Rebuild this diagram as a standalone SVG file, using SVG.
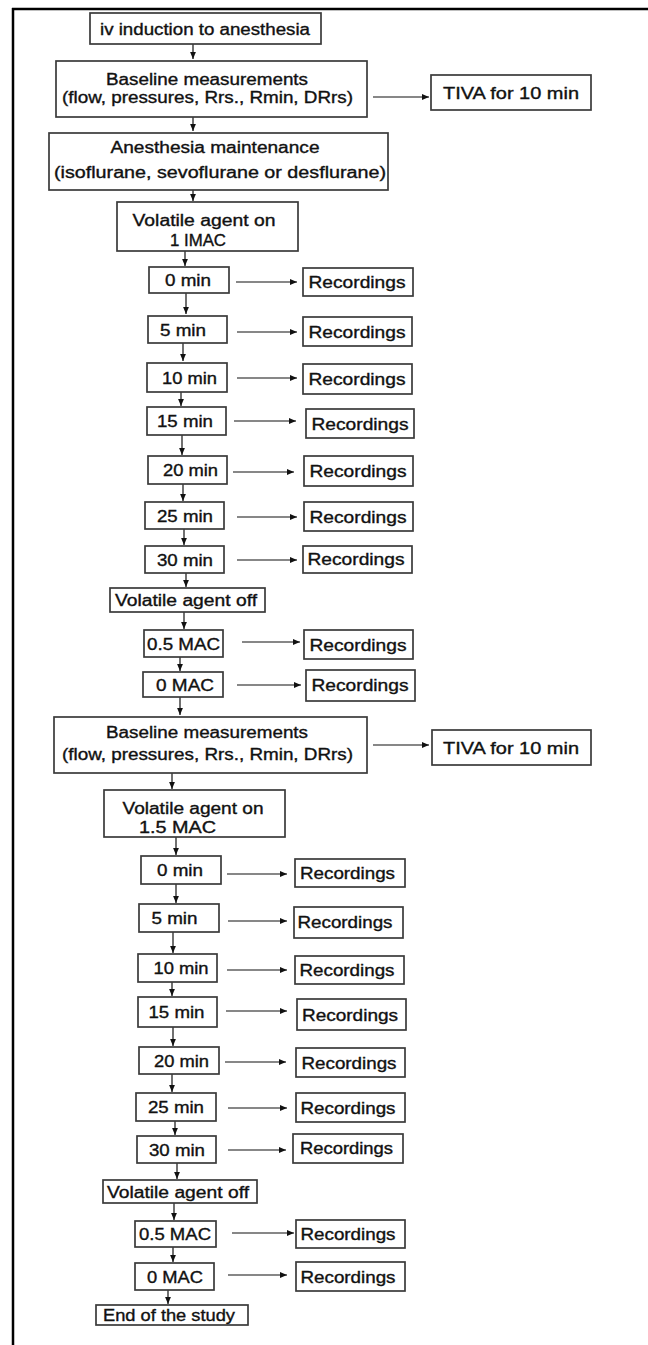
<svg xmlns="http://www.w3.org/2000/svg" width="648" height="1345" viewBox="0 0 648 1345">
<style>
.b{fill:#fff;stroke:#3a3a3a;stroke-width:1.7}
.t{font-family:"Liberation Sans",Arial,sans-serif;font-size:16px;fill:#111;stroke:#111;stroke-width:0.35;text-anchor:middle}
.c{stroke:#111;stroke-width:1.2;fill:none}
.h{marker-end:url(#hh)}
</style>
<defs>
<marker id="hh" markerUnits="userSpaceOnUse" markerWidth="8" markerHeight="8" refX="7" refY="3.5" orient="auto" viewBox="0 0 8 7">
<path d="M0,0.6 L7,3.5 L0,6.4 Z" fill="#111"/>
</marker>
</defs>
<rect width="648" height="1345" fill="#fff"/>
<g id="frame">
<line x1="12" y1="9" x2="648" y2="9" stroke="#000" stroke-width="2.5"/>
<line x1="13" y1="8" x2="13" y2="1345" stroke="#000" stroke-width="2.5"/>
</g>
<g id="connectors">
<line class="c h" x1="193" y1="44" x2="193" y2="59"/>
<line class="c h" x1="373" y1="97" x2="429" y2="97"/>
<line class="c h" x1="193" y1="117" x2="193" y2="131"/>
<line class="c h" x1="193" y1="190" x2="193" y2="201"/>
<line class="c h" x1="185" y1="251" x2="185" y2="266"/>
<line class="c h" x1="236" y1="282" x2="297" y2="282"/>
<line class="c h" x1="186" y1="293" x2="186" y2="314"/>
<line class="c h" x1="237" y1="332" x2="297" y2="332"/>
<line class="c h" x1="183" y1="343" x2="183" y2="361"/>
<line class="c h" x1="237" y1="378" x2="297" y2="378"/>
<line class="c h" x1="181" y1="392" x2="181" y2="406"/>
<line class="c h" x1="234" y1="421" x2="296" y2="421"/>
<line class="c h" x1="182" y1="435" x2="182" y2="455"/>
<line class="c h" x1="233" y1="472" x2="294" y2="472"/>
<line class="c h" x1="183" y1="484" x2="183" y2="501"/>
<line class="c h" x1="237" y1="517" x2="297" y2="517"/>
<line class="c h" x1="184" y1="529" x2="184" y2="545"/>
<line class="c h" x1="237" y1="560" x2="297" y2="560"/>
<line class="c h" x1="186" y1="573" x2="186" y2="587"/>
<line class="c h" x1="184" y1="612" x2="184" y2="629"/>
<line class="c h" x1="242" y1="642" x2="300" y2="642"/>
<line class="c h" x1="180" y1="657" x2="180" y2="671"/>
<line class="c h" x1="237" y1="685" x2="301" y2="685"/>
<line class="c h" x1="180" y1="697" x2="180" y2="715"/>
<line class="c h" x1="373" y1="745" x2="429" y2="745"/>
<line class="c h" x1="172" y1="773" x2="172" y2="789"/>
<line class="c h" x1="176" y1="837" x2="176" y2="855"/>
<line class="c h" x1="227" y1="874" x2="287" y2="874"/>
<line class="c h" x1="176" y1="884" x2="176" y2="903"/>
<line class="c h" x1="228" y1="921" x2="287" y2="921"/>
<line class="c h" x1="173" y1="932" x2="173" y2="953"/>
<line class="c h" x1="227" y1="970" x2="287" y2="970"/>
<line class="c h" x1="172" y1="982" x2="172" y2="996"/>
<line class="c h" x1="226" y1="1011" x2="287" y2="1011"/>
<line class="c h" x1="173" y1="1027" x2="173" y2="1046"/>
<line class="c h" x1="225" y1="1062" x2="286" y2="1062"/>
<line class="c h" x1="172" y1="1074" x2="172" y2="1092"/>
<line class="c h" x1="228" y1="1108" x2="287" y2="1108"/>
<line class="c h" x1="175" y1="1121" x2="175" y2="1135"/>
<line class="c h" x1="228" y1="1150" x2="286" y2="1150"/>
<line class="c h" x1="177" y1="1163" x2="177" y2="1179"/>
<line class="c h" x1="174" y1="1203" x2="174" y2="1220"/>
<line class="c h" x1="232" y1="1233" x2="294" y2="1233"/>
<line class="c h" x1="173" y1="1247" x2="173" y2="1262"/>
<line class="c h" x1="228" y1="1275" x2="287" y2="1275"/>
<line class="c h" x1="168" y1="1290" x2="168" y2="1304"/>
</g>
<g id="n-induction"><rect class="b" x="90" y="13" width="231" height="31"/><text class="t" x="205" y="34.5" textLength="210" lengthAdjust="spacingAndGlyphs">iv induction to anesthesia</text></g>
<g id="n-baseline1"><rect class="b" x="56" y="61" width="311" height="56"/><text class="t" x="207" y="85" textLength="202" lengthAdjust="spacingAndGlyphs">Baseline measurements</text><text class="t" x="207.5" y="103" textLength="291" lengthAdjust="spacingAndGlyphs">(flow, pressures, Rrs., Rmin, DRrs)</text></g>
<g id="n-tiva1"><rect class="b" x="431" y="75" width="160" height="35"/><text class="t" x="511" y="98.5" textLength="136" lengthAdjust="spacingAndGlyphs">TIVA for 10 min</text></g>
<g id="n-maint"><rect class="b" x="49" y="133" width="339" height="57"/><text class="t" x="215" y="153" textLength="209" lengthAdjust="spacingAndGlyphs">Anesthesia maintenance</text><text class="t" x="220" y="178" textLength="332" lengthAdjust="spacingAndGlyphs">(isoflurane, sevoflurane or desflurane)</text></g>
<g id="n-von1"><rect class="b" x="117" y="202" width="181" height="49"/><text class="t" x="204" y="226" textLength="143" lengthAdjust="spacingAndGlyphs">Volatile agent on</text><text class="t" x="198" y="246" textLength="56" lengthAdjust="spacingAndGlyphs">1 IMAC</text></g>
<g id="n-a0"><rect class="b" x="149" y="267" width="80" height="26"/><text class="t" x="188" y="286" textLength="46" lengthAdjust="spacingAndGlyphs">0 min</text></g>
<g id="n-ar0"><rect class="b" x="303" y="268" width="110" height="28"/><text class="t" x="357" y="288" textLength="97" lengthAdjust="spacingAndGlyphs">Recordings</text></g>
<g id="n-a5"><rect class="b" x="148" y="316" width="79" height="27"/><text class="t" x="183" y="335.5" textLength="46" lengthAdjust="spacingAndGlyphs">5 min</text></g>
<g id="n-ar5"><rect class="b" x="303" y="317" width="109" height="29"/><text class="t" x="357" y="337.5" textLength="97" lengthAdjust="spacingAndGlyphs">Recordings</text></g>
<g id="n-a10"><rect class="b" x="147" y="363" width="80" height="29"/><text class="t" x="189.5" y="383.5" textLength="55" lengthAdjust="spacingAndGlyphs">10 min</text></g>
<g id="n-ar10"><rect class="b" x="303" y="364" width="109" height="30"/><text class="t" x="357" y="385" textLength="97" lengthAdjust="spacingAndGlyphs">Recordings</text></g>
<g id="n-a15"><rect class="b" x="147" y="407" width="79" height="28"/><text class="t" x="185" y="427" textLength="56" lengthAdjust="spacingAndGlyphs">15 min</text></g>
<g id="n-ar15"><rect class="b" x="306" y="409" width="108" height="29"/><text class="t" x="360" y="429.5" textLength="97" lengthAdjust="spacingAndGlyphs">Recordings</text></g>
<g id="n-a20"><rect class="b" x="148" y="456" width="79" height="28"/><text class="t" x="190.5" y="476" textLength="55" lengthAdjust="spacingAndGlyphs">20 min</text></g>
<g id="n-ar20"><rect class="b" x="304" y="456" width="109" height="30"/><text class="t" x="358" y="477" textLength="97" lengthAdjust="spacingAndGlyphs">Recordings</text></g>
<g id="n-a25"><rect class="b" x="145" y="502" width="79" height="27"/><text class="t" x="185" y="521.5" textLength="56" lengthAdjust="spacingAndGlyphs">25 min</text></g>
<g id="n-ar25"><rect class="b" x="304" y="502" width="109" height="29"/><text class="t" x="358" y="522.5" textLength="97" lengthAdjust="spacingAndGlyphs">Recordings</text></g>
<g id="n-a30"><rect class="b" x="145" y="546" width="79" height="27"/><text class="t" x="185" y="565.5" textLength="56" lengthAdjust="spacingAndGlyphs">30 min</text></g>
<g id="n-ar30"><rect class="b" x="303" y="546" width="109" height="27"/><text class="t" x="356" y="564.5" textLength="97" lengthAdjust="spacingAndGlyphs">Recordings</text></g>
<g id="n-aoff"><rect class="b" x="110" y="588" width="155" height="24"/><text class="t" x="186" y="606" textLength="142" lengthAdjust="spacingAndGlyphs">Volatile agent off</text></g>
<g id="n-a05"><rect class="b" x="144" y="630" width="79" height="27"/><text class="t" x="183.5" y="649.5" textLength="73" lengthAdjust="spacingAndGlyphs">0.5 MAC</text></g>
<g id="n-ar05"><rect class="b" x="304" y="630" width="109" height="29"/><text class="t" x="358" y="650.5" textLength="97" lengthAdjust="spacingAndGlyphs">Recordings</text></g>
<g id="n-a00"><rect class="b" x="143" y="672" width="80" height="25"/><text class="t" x="185" y="690.5" textLength="58" lengthAdjust="spacingAndGlyphs">0 MAC</text></g>
<g id="n-ar00"><rect class="b" x="306" y="670" width="109" height="31"/><text class="t" x="360" y="691" textLength="97" lengthAdjust="spacingAndGlyphs">Recordings</text></g>
<g id="n-baseline2"><rect class="b" x="54" y="717" width="313" height="56"/><text class="t" x="207" y="738" textLength="202" lengthAdjust="spacingAndGlyphs">Baseline measurements</text><text class="t" x="207.5" y="760" textLength="291" lengthAdjust="spacingAndGlyphs">(flow, pressures, Rrs., Rmin, DRrs)</text></g>
<g id="n-tiva2"><rect class="b" x="432" y="730" width="159" height="35"/><text class="t" x="511" y="753.5" textLength="136" lengthAdjust="spacingAndGlyphs">TIVA for 10 min</text></g>
<g id="n-von2"><rect class="b" x="104" y="790" width="181" height="47"/><text class="t" x="193" y="814" textLength="141" lengthAdjust="spacingAndGlyphs">Volatile agent on</text><text class="t" x="177.5" y="833" textLength="77" lengthAdjust="spacingAndGlyphs">1.5 MAC</text></g>
<g id="n-b0"><rect class="b" x="141" y="856" width="80" height="28"/><text class="t" x="180" y="876" textLength="46" lengthAdjust="spacingAndGlyphs">0 min</text></g>
<g id="n-br0"><rect class="b" x="295" y="859" width="110" height="28"/><text class="t" x="347.5" y="879" textLength="95" lengthAdjust="spacingAndGlyphs">Recordings</text></g>
<g id="n-b5"><rect class="b" x="139" y="904" width="80" height="28"/><text class="t" x="174.5" y="924" textLength="46" lengthAdjust="spacingAndGlyphs">5 min</text></g>
<g id="n-br5"><rect class="b" x="294" y="907" width="109" height="31"/><text class="t" x="345" y="928" textLength="95" lengthAdjust="spacingAndGlyphs">Recordings</text></g>
<g id="n-b10"><rect class="b" x="138" y="954" width="79" height="28"/><text class="t" x="181" y="974" textLength="55" lengthAdjust="spacingAndGlyphs">10 min</text></g>
<g id="n-br10"><rect class="b" x="295" y="956" width="109" height="28"/><text class="t" x="347" y="976" textLength="95" lengthAdjust="spacingAndGlyphs">Recordings</text></g>
<g id="n-b15"><rect class="b" x="138" y="997" width="79" height="30"/><text class="t" x="176.5" y="1018" textLength="56" lengthAdjust="spacingAndGlyphs">15 min</text></g>
<g id="n-br15"><rect class="b" x="297" y="999" width="109" height="31"/><text class="t" x="350" y="1020.5" textLength="96" lengthAdjust="spacingAndGlyphs">Recordings</text></g>
<g id="n-b20"><rect class="b" x="139" y="1047" width="80" height="27"/><text class="t" x="181.5" y="1066.5" textLength="55" lengthAdjust="spacingAndGlyphs">20 min</text></g>
<g id="n-br20"><rect class="b" x="296" y="1048" width="109" height="29"/><text class="t" x="349" y="1068.5" textLength="95" lengthAdjust="spacingAndGlyphs">Recordings</text></g>
<g id="n-b25"><rect class="b" x="136" y="1093" width="80" height="28"/><text class="t" x="176" y="1113" textLength="56" lengthAdjust="spacingAndGlyphs">25 min</text></g>
<g id="n-br25"><rect class="b" x="296" y="1093" width="109" height="29"/><text class="t" x="348" y="1113.5" textLength="95" lengthAdjust="spacingAndGlyphs">Recordings</text></g>
<g id="n-b30"><rect class="b" x="137" y="1136" width="79" height="27"/><text class="t" x="177" y="1155.5" textLength="56" lengthAdjust="spacingAndGlyphs">30 min</text></g>
<g id="n-br30"><rect class="b" x="293" y="1134" width="110" height="29"/><text class="t" x="346.5" y="1154" textLength="93" lengthAdjust="spacingAndGlyphs">Recordings</text></g>
<g id="n-boff"><rect class="b" x="103" y="1180" width="154" height="23"/><text class="t" x="178" y="1197.5" textLength="142" lengthAdjust="spacingAndGlyphs">Volatile agent off</text></g>
<g id="n-b05"><rect class="b" x="135" y="1221" width="81" height="26"/><text class="t" x="175" y="1240" textLength="72" lengthAdjust="spacingAndGlyphs">0.5 MAC</text></g>
<g id="n-br05"><rect class="b" x="296" y="1220" width="109" height="28"/><text class="t" x="348" y="1240" textLength="95" lengthAdjust="spacingAndGlyphs">Recordings</text></g>
<g id="n-b00"><rect class="b" x="135" y="1263" width="79" height="27"/><text class="t" x="175" y="1282.5" textLength="56" lengthAdjust="spacingAndGlyphs">0 MAC</text></g>
<g id="n-br00"><rect class="b" x="296" y="1262" width="109" height="29"/><text class="t" x="348" y="1282.5" textLength="95" lengthAdjust="spacingAndGlyphs">Recordings</text></g>
<g id="n-end"><rect class="b" x="96" y="1305" width="152" height="20"/><text class="t" x="169" y="1321" textLength="132" lengthAdjust="spacingAndGlyphs">End of the study</text></g>
</svg>
